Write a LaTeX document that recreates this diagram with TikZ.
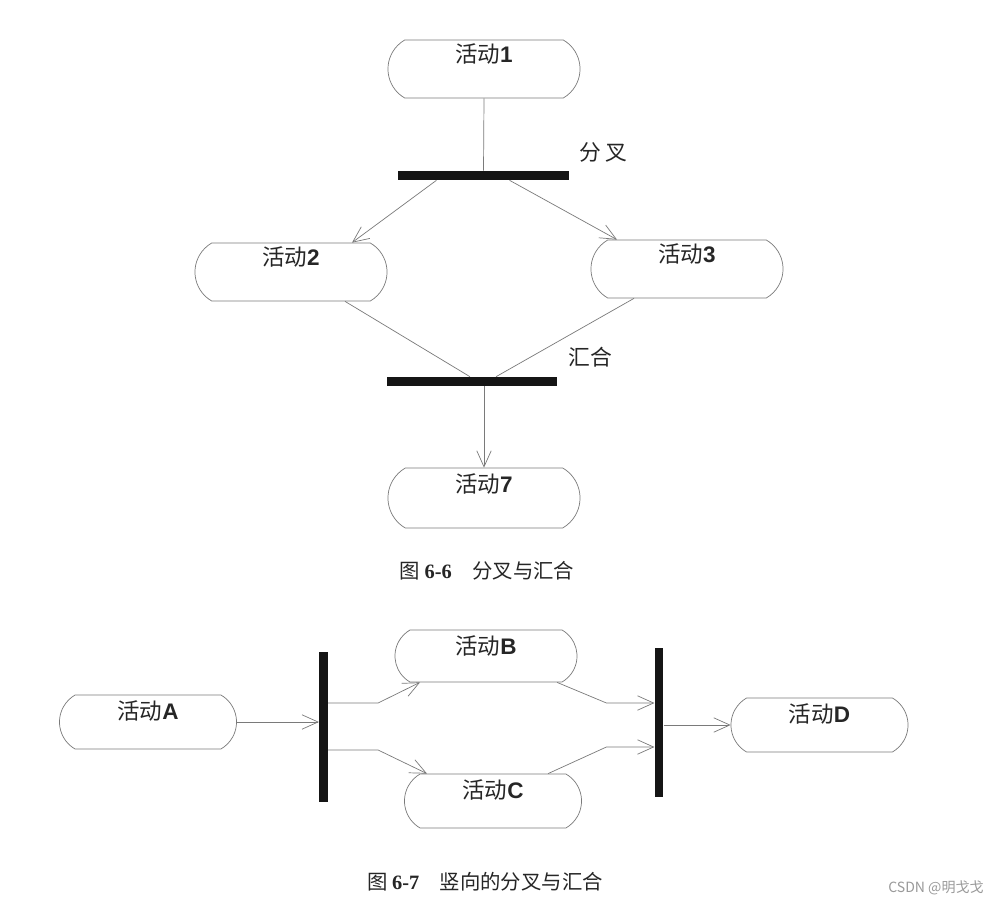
\documentclass[tikz,border=0pt]{standalone}
\usepackage{fontspec}
\newfontfamily\cjkfont{Noto Sans CJK SC}
\newfontfamily\numfont{Liberation Serif}
\newfontfamily\latfont{Liberation Sans}
\usetikzlibrary{arrows.meta, positioning, shapes.misc, calc}
\definecolor{edgegray}{HTML}{7A7A7A}
\definecolor{barblack}{HTML}{151515}
\definecolor{inkgray}{HTML}{262626}
\definecolor{markgray}{HTML}{9A9A9A}
\newcommand{\lat}[1]{{\latfont\bfseries #1}}

\begin{document}
\begin{tikzpicture}[
    x=0.025cm, y=-0.025cm,
    % ── shared styles ──
    act box/.style={rounded rectangle, rounded rectangle arc length=120,
        draw=edgegray, line width=0.5pt, fill=white, inner xsep=0pt, inner ysep=0pt,
        minimum width=#1, minimum height=1.45cm, text height=0.575cm, text depth=0.875cm,
        font=\cjkfont\fontsize{16}{19}\selectfont, text=inkgray},
    act flat/.style={act box=#1, minimum height=1.35cm, text height=0.6cm,
        text depth=0.75cm},
    sync bar/.style={rectangle, fill=barblack, draw=none, inner sep=0pt,
        minimum width=#1, minimum height=0.225cm},
    sync col/.style={rectangle, fill=barblack, draw=none, inner sep=0pt,
        minimum width=0.215cm, minimum height=#1},
    plain/.style={draw=edgegray, line width=0.5pt},
    flow/.style={draw=edgegray, line width=0.5pt,
        -{Straight Barb[length=4mm, width=3.6mm]}},
    tag/.style={font=\cjkfont\fontsize{15.5}{18}\selectfont, text=inkgray},
    caption/.style={font=\cjkfont\fontsize{14.5}{17}\selectfont, text=inkgray},
]

% ══════════════════════════════════════════════════════════════════════
%  PAGE
% ══════════════════════════════════════════════════════════════════════
\useasboundingbox[fill=white] (0,0) rectangle (1002,907);

% ══════════════════════════════════════════════════════════════════════
%  FIG 6-6  (horizontal fork / join)
% ══════════════════════════════════════════════════════════════════════
\node[act box=4.8cm] (act1) at (484,69)  {活动\lat{1}};
\node[sync bar=4.275cm] (fork1) at (483.5,175.5) {};
\node[act box=4.8cm] (act2) at (291,272) {活动\lat{2}};
\node[act box=4.8cm] (act3) at (687,269) {活动\lat{3}};
\node[sync bar=4.25cm] (join1) at (472,381.5) {};
\node[act box=4.8cm, minimum height=1.5cm] (act7) at (484,498) {活动\lat{7}};

\node[tag] (forkTag) at (603,152) {分\hspace{0.2em}叉};
\node[tag] (joinTag) at (590,357) {汇合};

\draw[plain] (act1.south) -- (fork1.north);
\draw[flow] ($(fork1.south)+(-47,0)$) -- ($(act2.north)+(61,0)$);
\draw[flow] ($(fork1.south)+(26,0)$) -- ($(act3.north)+(-70,0)$);
\draw[plain] ($(act2.south)+(54,0)$) -- ($(join1.north)+(-2,0)$);
\draw[plain] ($(act3.south)+(-53,0)$) -- ($(join1.north)+(24,0)$);
\draw[flow] (join1.south -| act7.north) -- (act7.north);

\node[caption] (cap1) at (487,571) {图 {\numfont\bfseries 6-6}\quad 分叉与汇合};

% ══════════════════════════════════════════════════════════════════════
%  FIG 6-7  (vertical fork / join)
% ══════════════════════════════════════════════════════════════════════
\node[act flat=4.425cm] (actA) at (148,722) {活动\lat{A}};
\node[sync col=3.75cm] (forkV) at (323.5,727) {};
\node[act flat=4.55cm, minimum height=1.3cm, text depth=0.7cm] (actB) at (486,656) {活动\lat{B}};
\node[act flat=4.425cm] (actC) at (493,801) {活动\lat{C}};
\node[sync col=3.725cm] (joinV) at (659,722.5) {};
\node[act flat=4.425cm] (actD) at (819.5,725) {活动\lat{D}};

\draw[flow] (actA.east) -- (actA.east -| forkV.west);
\draw[flow] ($(forkV.east)+(0,-24)$) -- ++(50,0) -- ($(actB.south)+(-66,0)$);
\draw[flow] ($(forkV.east)+(0,23)$) -- ++(50,0) -- ($(actC.north)+(-66,0)$);
\draw[flow] ($(actB.south)+(71,0)$) -- ($(joinV.west)+(-48,-19.5)$)
    -- ($(joinV.west)+(0,-19.5)$);
\draw[flow] ($(actC.north)+(55,0)$) -- ($(joinV.west)+(-48,24.5)$)
    -- ($(joinV.west)+(0,24.5)$);
\draw[flow] (joinV.east |- actD.west) -- (actD.west);

\node[caption] (cap2) at (485,882) {图 {\numfont\bfseries 6-7}\quad 竖向的分叉与汇合};

% ── watermark ──
\node[font=\cjkfont\fontsize{10}{12}\selectfont, text=markgray] (mark) at (936,888)
    {CSDN @明戈戈};

\end{tikzpicture}
\end{document}
